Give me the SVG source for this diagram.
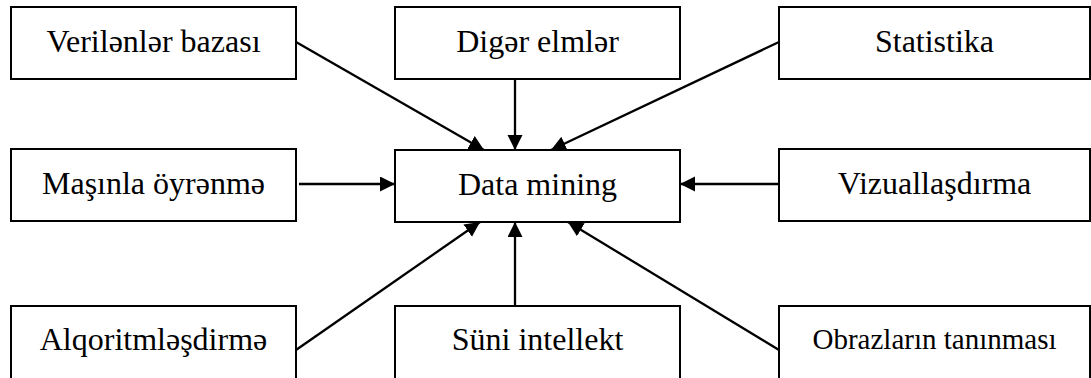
<svg xmlns="http://www.w3.org/2000/svg" width="1091" height="378" viewBox="0 0 1091 378">
<style>
.box{fill:#fff;stroke:#000;stroke-width:2}
.lbl{font-family:"Liberation Serif","Times New Roman",serif;font-size:32px;fill:#000;text-anchor:middle}
.sm{font-size:29px}
.con{stroke:#000;stroke-width:2.3;fill:none;marker-end:url(#ah)}
</style>
<defs>
<marker id="ah" markerUnits="userSpaceOnUse" markerWidth="16" markerHeight="16" refX="15" refY="7.5" orient="auto">
<path d="M0,0 L15,7.5 L0,15 z" fill="#000"/>
</marker>
</defs>
<rect width="1091" height="378" fill="#fff"/>
<g id="n-verilenler"><rect class="box" x="11" y="7" width="285" height="72"/><text class="lbl" x="153.5" y="52">Verilənlər bazası</text></g>
<g id="n-diger"><rect class="box" x="395" y="7" width="285" height="72"/><text class="lbl" x="537.5" y="52">Digər elmlər</text></g>
<g id="n-statistika"><rect class="box" x="779" y="7" width="311" height="72"/><text class="lbl" x="934.5" y="52">Statistika</text></g>
<g id="n-masinla"><rect class="box" x="11" y="149" width="285" height="72"/><text class="lbl" x="153.5" y="194">Maşınla öyrənmə</text></g>
<g id="n-datamining"><rect class="box" x="395" y="150" width="285" height="72"/><text class="lbl" x="537.5" y="195">Data mining</text></g>
<g id="n-vizual"><rect class="box" x="779" y="149" width="311" height="72"/><text class="lbl" x="934.5" y="194">Vizuallaşdırma</text></g>
<g id="n-alqoritm"><rect class="box" x="11" y="306" width="285" height="80"/><text class="lbl" x="153.5" y="350">Alqoritmləşdirmə</text></g>
<g id="n-suni"><rect class="box" x="395" y="306" width="285" height="80"/><text class="lbl" x="537.5" y="350">Süni intellekt</text></g>
<g id="n-obrazlar"><rect class="box" x="779" y="306" width="311" height="80"/><text class="lbl sm" x="934.5" y="349">Obrazların tanınması</text></g>
<g id="connectors">
<line class="con" x1="296" y1="42" x2="484" y2="150"/>
<line class="con" x1="515" y1="79" x2="515" y2="150"/>
<line class="con" x1="779" y1="42" x2="551" y2="150"/>
<line class="con" x1="299" y1="184" x2="395" y2="184"/>
<line class="con" x1="779" y1="184" x2="680" y2="184"/>
<line class="con" x1="296" y1="350" x2="480" y2="222"/>
<line class="con" x1="515" y1="306" x2="515" y2="222"/>
<line class="con" x1="779" y1="350" x2="568" y2="222"/>
</g>
</svg>
